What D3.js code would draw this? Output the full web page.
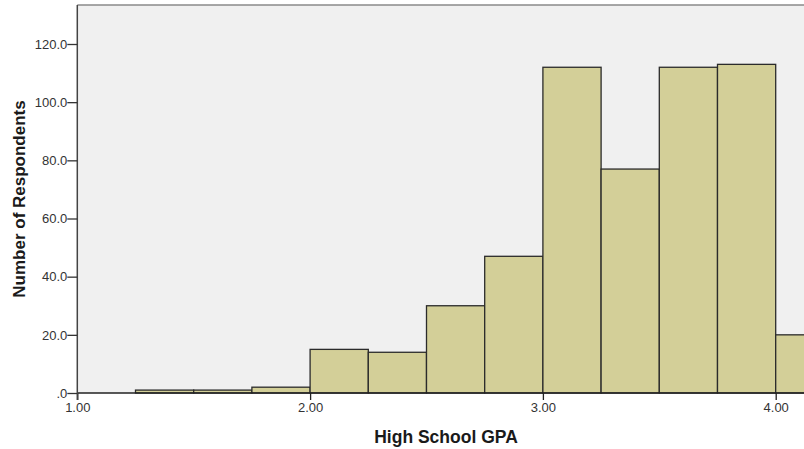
<!DOCTYPE html>
<html>
<head>
<meta charset="utf-8">
<script src="https://cdn.jsdelivr.net/npm/d3@7"></script>
<style>
  body { margin: 0; background: #fff; }
  svg { display: block; font-family: "Liberation Sans", Arial, sans-serif; }
</style>
</head>
<body>
<svg id="chart" width="804" height="449"></svg>
<script>
// Histogram of high school GPA, bins of width 0.25
var binStarts = [1.25, 1.50, 1.75, 2.00, 2.25, 2.50, 2.75, 3.00, 3.25, 3.50, 3.75, 4.00];
var counts    = [1, 1, 2, 15, 14, 30, 47, 112, 77, 112, 113, 20];
var binWidth = 0.25;
var xTicks = [1, 2, 3, 4];
var yTicks = [0, 20, 40, 60, 80, 100, 120];

var svg = d3.select("#chart");
// note: "top" is a read-only window global, so use plot* names
var plotLeft = 77.3, plotBottom = 393, plotTop = 5, plotRight = 804;

// x: 1.00 at 77.3, 4.00 at 775.7
var xScale = d3.scaleLinear().domain([1, 4]).range([plotLeft, 775.7]);
// y: 0 at 393, 120 at 44
var yScale = d3.scaleLinear().domain([0, 120]).range([plotBottom, 44]);

// Plot background
svg.append("rect")
    .attr("x", plotLeft).attr("y", plotTop)
    .attr("width", plotRight - plotLeft + 2).attr("height", plotBottom - plotTop)
    .style("fill", "#f0f0f0");

// Frame top line
svg.append("line")
    .attr("x1", plotLeft).attr("x2", plotRight)
    .attr("y1", plotTop).attr("y2", plotTop)
    .style("stroke", "#8a8a8a").style("stroke-width", 1.5);

// Bars
svg.append("g").selectAll("rect")
    .data(binStarts)
    .enter()
    .append("rect")
    .attr("x", function(d) { return xScale(d); })
    .attr("y", function(d, i) { return yScale(counts[i]); })
    .attr("width", function(d) { return xScale(d + binWidth) - xScale(d); })
    .attr("height", function(d, i) { return yScale(0) - yScale(counts[i]); })
    .style("fill", "#d3cf98")
    .style("stroke", "#2b2b2b")
    .style("stroke-width", 1.3);

// X axis
var xAxis = d3.axisBottom(xScale)
    .tickValues(xTicks)
    .tickFormat(d3.format(".2f"))
    .tickSize(7)
    .tickSizeOuter(0);
var gx = svg.append("g")
    .attr("transform", "translate(0," + plotBottom + ")")
    .call(xAxis);
gx.select(".domain").attr("d", "M" + plotLeft + ",0H" + plotRight).style("stroke", "#222").style("stroke-width", 1.5);
gx.selectAll(".tick line").style("stroke", "#222").style("stroke-width", 1.3);
gx.selectAll(".tick text")
    .attr("y", 10)
    .style("font-size", "13px")
    .style("fill", "#333");

// Y axis
var yAxis = d3.axisLeft(yScale)
    .tickValues(yTicks)
    .tickFormat(function(d) { return d === 0 ? ".0" : d3.format(".1f")(d); })
    .tickSize(10)
    .tickSizeOuter(0);
var gy = svg.append("g")
    .attr("transform", "translate(" + plotLeft + ",0)")
    .call(yAxis);
gy.select(".domain").attr("d", "M0," + plotTop + "V" + (plotBottom + 7)).style("stroke", "#444").style("stroke-width", 1.5);
gy.selectAll(".tick line").style("stroke", "#333").style("stroke-width", 1.3);
gy.selectAll(".tick text")
    .attr("x", -10)
    .style("font-size", "13px")
    .style("fill", "#333");

// Axis titles
svg.append("text")
    .attr("x", 446).attr("y", 443)
    .attr("text-anchor", "middle")
    .style("font-size", "17.5px")
    .style("font-weight", "bold")
    .style("fill", "#1a1a1a")
    .text("High School GPA");

svg.append("text")
    .attr("transform", "translate(25,199) rotate(-90)")
    .attr("text-anchor", "middle")
    .style("font-size", "17px")
    .style("font-weight", "bold")
    .style("fill", "#1a1a1a")
    .text("Number of Respondents");
</script>
</body>
</html>
